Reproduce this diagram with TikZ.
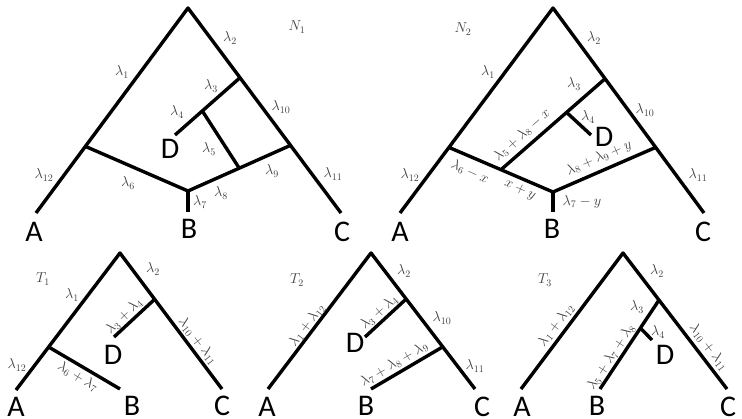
\documentclass[tikz,border=0pt]{standalone}
\usepackage{fontspec}
\newfontfamily\leaffont{Carlito}
\usetikzlibrary{calc}
\tikzset{
  edge/.style={line width=3.4pt, line join=round},
  leaf/.style={font=\leaffont\fontsize{30}{30}\selectfont, anchor=base, inner sep=0pt},
  lab/.style={font=\fontsize{14.4}{16}\selectfont, text=black!75, inner sep=1pt},
  ttl/.style={font=\fontsize{14.4}{17}\selectfont, text=black!75, inner sep=1pt}
}
\begin{document}
\begin{tikzpicture}[x=1pt,y=-1pt]
\useasboundingbox (0,0) rectangle (742,418);
% ---------- N1 ----------
\coordinate (p1r) at (188,8);
\coordinate (p1A) at (36,213);
\coordinate (p1C) at (341,213);
\coordinate (p1L) at ($(p1r)!0.675!(p1A)$);
\coordinate (p1R3) at ($(p1r)!0.34!(p1C)$);
\coordinate (p1R9) at ($(p1r)!0.67!(p1C)$);
\coordinate (p1B) at (188,191);
\coordinate (p1Be) at (188,212);
\coordinate (p1H) at ($(p1B)!0.5!(p1R9)$);
\coordinate (p1D) at (175,135);
\coordinate (p1J) at ($(p1R3)!0.58!(p1D)$);
\draw[edge] (p1A) -- (p1r) -- (p1C);
\draw[edge] (p1L) -- (p1B) -- (p1R9);
\draw[edge] (p1B) -- (p1Be);
\draw[edge] (p1R3) -- (p1D);
\draw[edge] (p1J) -- (p1H);
\node[leaf] (n1A) at (34,241) {A};
\node[leaf] (n1B) at (189,238) {B};
\node[leaf] (n1C) at (342,241) {C};
\node[leaf] (n1D) at (170,158) {D};
\node[ttl] (n1t) at (297,27) {$N_1$};
\node[lab] (n1l2) at (230,38) {$\lambda_2$};
\node[lab] (n1l1) at (122,72) {$\lambda_1$};
\node[lab] (n1l3) at (211,86) {$\lambda_3$};
\node[lab] (n1l10) at (281,107) {$\lambda_{10}$};
\node[lab] (n1l4) at (177,112) {$\lambda_4$};
\node[lab] (n1l5) at (209,149) {$\lambda_5$};
\node[lab] (n1l12) at (44,175) {$\lambda_{12}$};
\node[lab] (n1l6) at (128,183) {$\lambda_6$};
\node[lab] (n1l9) at (272,171) {$\lambda_9$};
\node[lab] (n1l11) at (333,174) {$\lambda_{11}$};
\node[lab] (n1l8) at (221,193) {$\lambda_8$};
\node[lab] (n1l7) at (200,202) {$\lambda_7$};
% ---------- N2 ----------
\coordinate (p2r) at (553,8);
\coordinate (p2A) at (400,213);
\coordinate (p2C) at (704,213);
\coordinate (p2L) at ($(p2r)!0.68!(p2A)$);
\coordinate (p2R3) at ($(p2r)!0.345!(p2C)$);
\coordinate (p2R9) at ($(p2r)!0.68!(p2C)$);
\coordinate (p2B) at (553,192);
\coordinate (p2Be) at (553,212);
\coordinate (p2K) at ($(p2L)!0.5!(p2B)$);
\coordinate (p2J) at ($(p2K)!0.63!(p2R3)$);
\coordinate (p2D) at (591,135);
\draw[edge] (p2A) -- (p2r) -- (p2C);
\draw[edge] (p2L) -- (p2B) -- (p2R9);
\draw[edge] (p2B) -- (p2Be);
\draw[edge] (p2K) -- (p2R3);
\draw[edge] (p2J) -- (p2D);
\node[leaf] (n2A) at (400,241) {A};
\node[leaf] (n2B) at (552,238) {B};
\node[leaf] (n2C) at (703,241) {C};
\node[leaf] (n2D) at (604,146) {D};
\node[ttl] (n2t) at (463,29) {$N_2$};
\node[lab] (n2l2) at (594,38) {$\lambda_2$};
\node[lab] (n2l1) at (488,72) {$\lambda_1$};
\node[lab] (n2l3) at (574,84) {$\lambda_3$};
\node[lab] (n2l10) at (645,110) {$\lambda_{10}$};
\node[lab] (n2l4) at (588,117) {$\lambda_4$};
\node[lab] (n2l12) at (410,175) {$\lambda_{12}$};
\node[lab] (n2l11) at (698,175) {$\lambda_{11}$};
\node[lab, rotate=42] (n2l58) at (522,135) {$\lambda_5+\lambda_8-x$};
\node[lab, rotate=-24] (n2l6) at (470,172) {$\lambda_6-x$};
\node[lab, rotate=-24] (n2xy) at (520,190) {$x+y$};
\node[lab, rotate=23.5] (n2l89) at (599,158) {$\lambda_8+\lambda_9+y$};
\node[lab] (n2l7) at (582,202) {$\lambda_7-y$};
% ---------- T1 ----------
\coordinate (q1r) at (120,253);
\coordinate (q1A) at (16,390);
\coordinate (q1C) at (222,389);
\coordinate (q1L) at ($(q1r)!0.686!(q1A)$);
\coordinate (q1R) at ($(q1r)!0.34!(q1C)$);
\coordinate (q1B) at (120,389);
\coordinate (q1D) at (114,337);
\draw[edge] (q1A) -- (q1r) -- (q1C);
\draw[edge] (q1L) -- (q1B);
\draw[edge] (q1R) -- (q1D);
\node[leaf] (m1A) at (16,416) {A};
\node[leaf] (m1B) at (132,415) {B};
\node[leaf] (m1C) at (222,415) {C};
\node[leaf] (m1D) at (113,364) {D};
\node[ttl] (m1t) at (43,279) {$T_1$};
\node[lab] (m1l2) at (153,269) {$\lambda_2$};
\node[lab] (m1l1) at (72,295) {$\lambda_1$};
\node[lab] (m1l12) at (17,365) {$\lambda_{12}$};
\node[lab, rotate=44] (m1l34) at (124,316) {$\lambda_3+\lambda_4$};
\node[lab, rotate=-52] (m1l1011) at (198,341) {$\lambda_{10}+\lambda_{11}$};
\node[lab, rotate=-31] (m1l67) at (78,377) {$\lambda_6+\lambda_7$};
% ---------- T2 ----------
\coordinate (q2r) at (371,253);
\coordinate (q2A) at (268,389);
\coordinate (q2C) at (475,389);
\coordinate (q2R3) at ($(q2r)!0.338!(q2C)$);
\coordinate (q2R9) at ($(q2r)!0.69!(q2C)$);
\coordinate (q2D) at (365,337);
\coordinate (q2B) at (371,389);
\draw[edge] (q2A) -- (q2r) -- (q2C);
\draw[edge] (q2R3) -- (q2D);
\draw[edge] (q2R9) -- (q2B);
\node[leaf] (m2A) at (267,416) {A};
\node[leaf] (m2B) at (366,415) {B};
\node[leaf] (m2C) at (482,416) {C};
\node[leaf] (m2D) at (355,352) {D};
\node[ttl] (m2t) at (297,280) {$T_2$};
\node[lab] (m2l2) at (404,271) {$\lambda_2$};
\node[lab, rotate=53] (m2l112) at (307,325) {$\lambda_1+\lambda_{12}$};
\node[lab, rotate=42] (m2l34) at (379,312) {$\lambda_3+\lambda_4$};
\node[lab] (m2l10) at (442,318) {$\lambda_{10}$};
\node[lab, rotate=30.6] (m2l789) at (394,364) {$\lambda_7+\lambda_8+\lambda_9$};
\node[lab] (m2l11) at (475,366) {$\lambda_{11}$};
% ---------- T3 ----------
\coordinate (q3r) at (623,253);
\coordinate (q3A) at (521,389);
\coordinate (q3C) at (727,389);
\coordinate (q3R3) at ($(q3r)!0.346!(q3C)$);
\coordinate (q3B) at (600,389);
\coordinate (q3J) at ($(q3R3)!0.315!(q3B)$);
\coordinate (q3D) at (652,340);
\draw[edge] (q3A) -- (q3r) -- (q3C);
\draw[edge] (q3R3) -- (q3B);
\draw[edge] (q3J) -- (q3D);
\node[leaf] (m3A) at (522,416) {A};
\node[leaf] (m3B) at (597,415) {B};
\node[leaf] (m3C) at (728,416) {C};
\node[leaf] (m3D) at (665,364) {D};
\node[ttl] (m3t) at (545,280) {$T_3$};
\node[lab] (m3l2) at (657,271) {$\lambda_2$};
\node[lab, rotate=53] (m3l112) at (556,325) {$\lambda_1+\lambda_{12}$};
\node[lab] (m3l3) at (637,307) {$\lambda_3$};
\node[lab] (m3l4) at (658,332) {$\lambda_4$};
\node[lab, rotate=57] (m3l578) at (611,357) {$\lambda_5+\lambda_7+\lambda_8$};
\node[lab, rotate=-52.6] (m3l1011) at (709,347) {$\lambda_{10}+\lambda_{11}$};
\end{tikzpicture}
\end{document}
